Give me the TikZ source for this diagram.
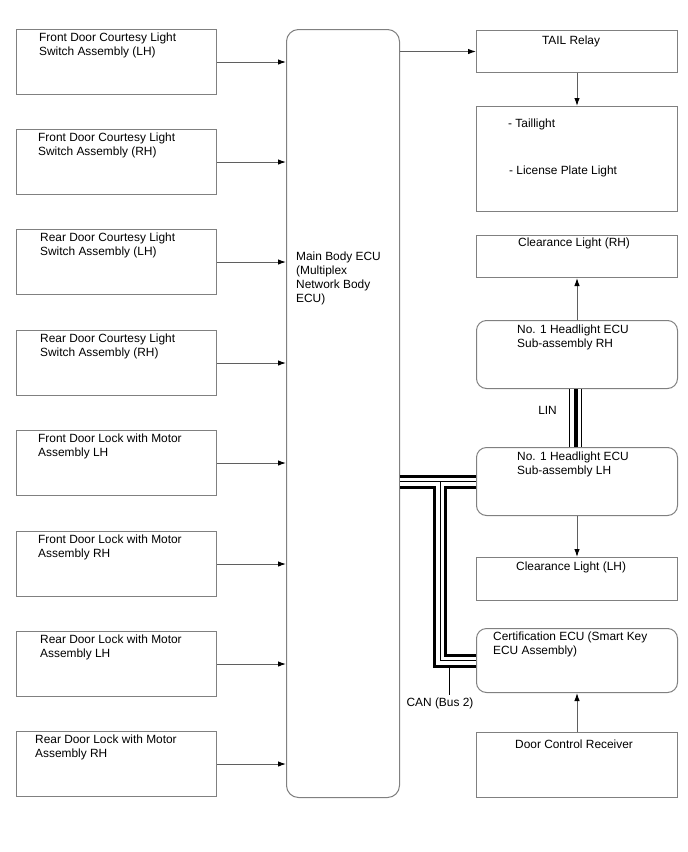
\documentclass[tikz,border=0pt]{standalone}
\usepackage{fontspec}
\setmainfont{Liberation Sans}
\usetikzlibrary{arrows.meta}
\definecolor{bordergray}{RGB}{128,128,128}
\definecolor{linegray}{RGB}{95,95,95}
\begin{document}
\begin{tikzpicture}[x=1pt,y=-1pt,
  box/.style={draw=bordergray, line width=1pt, anchor=north west, inner sep=0pt, minimum width=200pt, minimum height=65pt},
  rbox/.style={box, rounded corners=10pt},
  txt/.style={anchor=north west, inner sep=0pt, font=\fontsize{11.9}{14}\selectfont, align=left},
  arr/.style={draw=linegray, line width=1pt, -{Latex[length=8pt,width=5.5pt,color=black]}},
  busblack/.style={draw=black, line width=14pt},
  buswhite/.style={draw=white, line width=8pt},
  busthin/.style={draw=black, line width=1pt},
]
\useasboundingbox (0,0) rectangle (688,852);

% ---- left input boxes ----
\node[box] (b1) at (16,29) {};
\node[box] (b2) at (16,129) {};
\node[box] (b3) at (16,229) {};
\node[box] (b4) at (16,330) {};
\node[box] (b5) at (16,430) {};
\node[box] (b6) at (16,531) {};
\node[box] (b7) at (16,631) {};
\node[box] (b8) at (16,731) {};

\node[txt] (t1) at (39,33) {Front Door Courtesy Light\\Switch Assembly (LH)};
\node[txt] (t2) at (38,133) {Front Door Courtesy Light\\Switch Assembly (RH)};
\node[txt] (t3) at (40,233) {Rear Door Courtesy Light\\Switch Assembly (LH)};
\node[txt] (t4) at (40,334) {Rear Door Courtesy Light\\Switch Assembly (RH)};
\node[txt] (t5) at (38,434) {Front Door Lock with Motor\\Assembly LH};
\node[txt] (t6) at (38,535) {Front Door Lock with Motor\\Assembly RH};
\node[txt] (t7) at (40,635) {Rear Door Lock with Motor\\Assembly LH};
\node[txt] (t8) at (35,735) {Rear Door Lock with Motor\\Assembly RH};

% ---- main ECU ----
\node[box, rounded corners=12pt, minimum width=113pt, minimum height=768pt] (ecu) at (286,29) {};
\node[txt] (ecut) at (296,252) {Main Body ECU\\(Multiplex\\Network Body\\ECU)};

\foreach \b in {b1,b2,b3,b4,b5,b6,b7,b8}
  \draw[arr] (\b.east) -- (\b.east -| ecu.west);

% ---- right boxes ----
\node[box, minimum width=201pt, minimum height=42pt] (tail) at (476,30) {};
\node[box, minimum width=201pt, minimum height=105pt] (lamps) at (476,106) {};
\node[box, minimum width=201pt, minimum height=42pt] (clrRH) at (476,235) {};
\node[rbox, minimum width=201pt, minimum height=68pt] (hlRH) at (476,320) {};
\node[rbox, minimum width=201pt, minimum height=68pt] (hlLH) at (476,447) {};
\node[box, minimum width=201pt, minimum height=43pt] (clrLH) at (476,557) {};
\node[rbox, minimum width=201pt, minimum height=64pt] (cert) at (476,628) {};
\node[box, minimum width=201pt, minimum height=65pt] (dcr) at (476,732) {};

\node[txt, anchor=north] (tailt) at (571,36) {TAIL Relay};
\node[txt] (lampt1) at (508,119) {- Taillight};
\node[txt] (lampt2) at (509,166) {- License Plate Light};
\node[txt] (clrRHt) at (518,238) {Clearance Light (RH)};
\node[txt] (hlRHt) at (517,325) {No. 1 Headlight ECU\\Sub-assembly RH};
\node[txt] (hlLHt) at (517,452) {No. 1 Headlight ECU\\Sub-assembly LH};
\node[txt] (clrLHt) at (516,562) {Clearance Light (LH)};
\node[txt] (certt) at (493,632) {Certification ECU (Smart Key\\ECU Assembly)};
\node[txt] (dcrt) at (515,740) {Door Control Receiver};

% ---- arrows on right ----
\draw[arr] (ecu.east |- tail.west) -- (tail.west);
\draw[arr] (tail.south) -- (lamps.north);
\draw[arr] (hlRH.north) -- (clrRH.south);
\draw[arr] (hlLH.south) -- (clrLH.north);
\draw[arr] (dcr.north) -- (cert.south);

% ---- LIN ----
\coordinate (linA) at ([xshift=-1.5pt]hlRH.south);
\coordinate (linB) at ([xshift=-1.5pt]hlLH.north);
\draw[draw=black, line width=13pt] (linA) -- (linB);
\draw[draw=white, line width=11pt] (linA) -- (linB);
\draw[draw=black, line width=4pt] (linA) -- (linB);
\node[txt, anchor=east] (linlbl) at (557,410) {LIN};

% ---- CAN bus ----
\coordinate (canS) at (ecu.east |- hlLH.west);
\coordinate (tj) at (440,481);
\draw[busblack] (canS) -- (hlLH.west);
\draw[busblack] (tj) -- (tj |- cert.west) -- (cert.west);
\draw[buswhite] (canS) -- (hlLH.west);
\draw[buswhite] (tj) -- (tj |- cert.west) -- (cert.west);
\draw[busthin] (canS) -- (hlLH.west);
\draw[busthin] (tj) -- (tj |- cert.west) -- (cert.west);

\coordinate (canbot) at (449,667);
\node[txt, anchor=center] (canlbl) at (440,703) {CAN (Bus 2)};
\draw[draw=black, line width=1pt] (canbot) -- ([yshift=2pt]canbot |- canlbl.north);
\end{tikzpicture}
\end{document}
